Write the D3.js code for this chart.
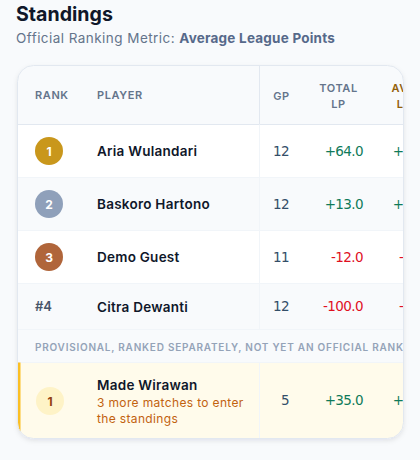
<!DOCTYPE html>
<html><head><meta charset="utf-8">
<script src="https://cdn.jsdelivr.net/npm/d3@7/dist/d3.min.js"></script>
<style>html,body{margin:0;padding:0;background:#f8fafc;overflow:hidden}svg{display:block}text{font-family:Inter,"Noto Sans",sans-serif}text.num{font-family:"DejaVu Sans",sans-serif}</style>
</head><body><svg id="c" width="420" height="460"></svg>
<script>
const players = ["Aria Wulandari","Baskoro Hartono","Demo Guest","Citra Dewanti","Made Wirawan"];
const ranks = ["1","2","3","#4","1"];
const gamesPlayed = [12,12,11,12,5];
const totalLP = [64,13,-12,-100,35];
const avgLP = [5.33,1.08,-1.09,-8.33,7];
const columns = ["RANK","PLAYER","GP",["TOTAL","LP"],["AVG","LP"]];
const provisionalLabel = "PROVISIONAL, RANKED SEPARATELY, NOT YET AN OFFICIAL RANK";
const provisionalNote = ["3 more matches to enter","the standings"];

const svg = d3.select("#c");
const L=17.5,R=403.5,T=65.5,B=438.5,DIV=259.5;
const edges=[T,124.5,177.5,230.5,283.5,329.5,362.5,B];
const rowKeys=["head","r0","r1","r2","r3","prov","r4"];
const yTop=d3.scaleOrdinal(rowKeys,edges.slice(0,-1));
const yBot=d3.scaleOrdinal(rowKeys,edges.slice(1));
const rowMid=i=>(yTop("r"+i)+yBot("r"+i))/2;
const colX=d3.scaleOrdinal(["rank","player","gp","total","avg"],[35,97,281.5,338.5,404]);
const signed=(v,d)=>d3.format("+."+d+"f")(v).replace("\u2212","-");
const valCol=v=>v<0?"#e0101f":"#0f7a5a";
const fills={head:"#f8fafc",r0:"#ffffff",r1:"#f8fafc",r2:"#ffffff",r3:"#f8fafc",prov:"#f8fafc",r4:"#fffbeb"};

const defs=svg.append("defs");
defs.append("clipPath").attr("id","card").append("rect").attr("x",L).attr("y",T).attr("width",R-L).attr("height",B-T).attr("rx",16);
const f=defs.append("filter").attr("id","sh").attr("x","-10%").attr("y","-10%").attr("width","120%").attr("height","120%");
f.append("feDropShadow").attr("dx",0).attr("dy",2).attr("stdDeviation",2.5).attr("flood-color","#0f172a").attr("flood-opacity",0.10);

svg.append("rect").attr("x",L).attr("y",T).attr("width",R-L).attr("height",B-T).attr("rx",16).attr("fill","#fff").attr("filter","url(#sh)");
const g=svg.append("g").attr("clip-path","url(#card)");
g.selectAll("rect.band").data(rowKeys).join("rect").attr("class","band")
 .attr("x",L).attr("width",R-L).attr("y",d=>yTop(d)).attr("height",d=>yBot(d)-yTop(d)).attr("fill",d=>fills[d]);
g.selectAll("line.sep").data(rowKeys.slice(0,-1)).join("line").attr("class","sep")
 .attr("x1",L).attr("x2",R).attr("y1",d=>yBot(d)).attr("y2",d=>yBot(d))
 .attr("stroke",d=>d==="head"?"#e2e8f0":"#f1f5f9");
g.selectAll("line.div").data(["head","r0","r1","r2","r3","r4"]).join("line").attr("class","div")
 .attr("x1",DIV).attr("x2",DIV).attr("y1",d=>yTop(d)).attr("y2",d=>yBot(d))
 .attr("stroke",d=>d==="head"?"#e2e8f0":"#f1f5f9");
g.append("rect").attr("x",L).attr("y",yTop("r4")).attr("width",3).attr("height",B-yTop("r4")).attr("fill","#fbbf24");

const head=(t,x,y,anchor,col)=>g.append("text").attr("x",x).attr("y",y).attr("text-anchor",anchor)
 .attr("font-size",11).attr("font-weight",600).attr("letter-spacing",0.6).attr("fill",col).text(t);
head(columns[0],colX("rank"),99,"start","#64748b");
head(columns[1],colX("player"),99,"start","#64748b");
head(columns[2],colX("gp"),100,"middle","#64748b");
columns[3].forEach((t,i)=>head(t,colX("total"),92+i*16,"middle","#64748b"));
columns[4].forEach((t,i)=>head(t,colX("avg"),92+i*16,"middle","#92600a"));

const medal=["#c9971c","#8fa0ba","#b0653a"];
const num=(x,y,col,t)=>g.append("text").attr("class","num").attr("x",x).attr("y",y).attr("text-anchor","end")
 .attr("font-size",13.5).attr("letter-spacing",-0.6).attr("fill",col).text(t);
players.forEach((p,i)=>{
  const y=rowMid(i), cy=i===4?401:y;
  if(i!==3){
    g.append("circle").attr("cx",i===4?50:49).attr("cy",cy).attr("r",14).attr("fill",i===4?"#fef3c7":medal[i]);
    g.append("text").attr("x",i===4?50:49).attr("y",cy+4.5).attr("text-anchor","middle").attr("font-size",12).attr("font-weight",700)
      .attr("fill",i===4?"#92400e":"#fff").text(ranks[i]);
  } else {
    g.append("text").attr("x",colX("rank")).attr("y",y+4.5).attr("font-size",13).attr("font-weight",600).attr("fill","#475569").text(ranks[i]);
  }
  const ny=i===4?390:y+5;
  g.append("text").attr("x",colX("player")).attr("y",ny).attr("font-size",13.5).attr("font-weight",600).attr("letter-spacing",0.25).attr("fill","#0f172a").text(p);
  const vy=y+(i===4?4.5:4.5);
  num(289,vy,"#334e68",gamesPlayed[i]);
  num(363,vy,valCol(totalLP[i]),signed(totalLP[i],1));
  num(431,vy,valCol(avgLP[i]),signed(avgLP[i],2));
});
provisionalNote.forEach((t,i)=>g.append("text").attr("x",colX("player")).attr("y",407+i*16).attr("font-size",12).attr("letter-spacing",0.35).attr("fill","#c2620f").text(t));
g.append("text").attr("x",colX("rank")).attr("y",351).attr("font-size",10).attr("font-weight",600).attr("letter-spacing",0.77).attr("fill","#94a3b8").text(provisionalLabel);

svg.append("rect").attr("x",L).attr("y",T).attr("width",R-L).attr("height",B-T).attr("rx",16).attr("fill","none").attr("stroke","#e2e8f0");

svg.append("text").attr("x",16).attr("y",21).attr("font-size",19.6).attr("font-weight",700).attr("fill","#0f172a").text("Standings");
const sub=svg.append("text").attr("x",16).attr("y",43).attr("font-size",13.5).attr("fill","#64748b");
sub.append("tspan").attr("letter-spacing",0.45).text("Official Ranking Metric: ");
sub.append("tspan").attr("font-weight",700).attr("letter-spacing",0.22).attr("fill","#56698a").text("Average League Points");
</script></body></html>
